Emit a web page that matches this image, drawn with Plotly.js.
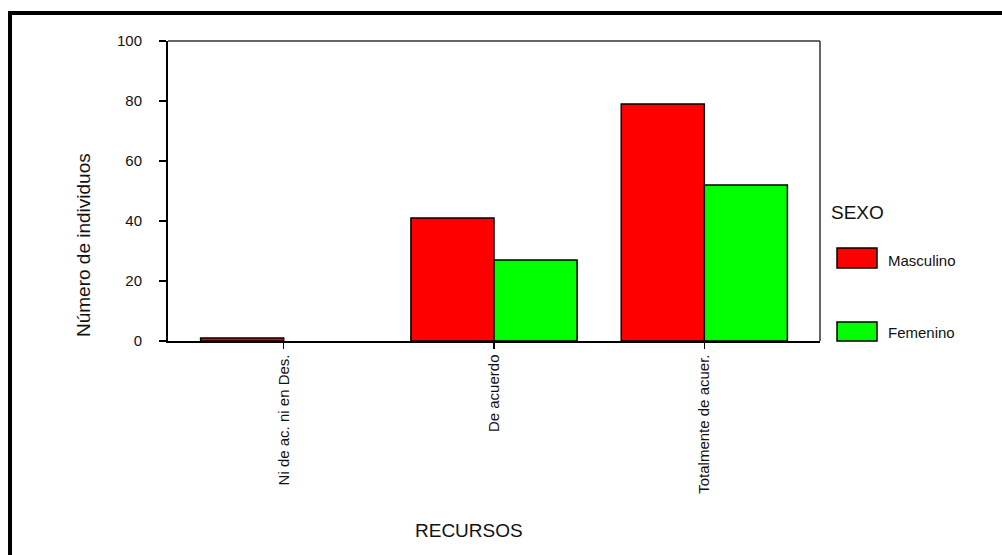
<!DOCTYPE html>
<html>
<head>
<meta charset="utf-8">
<script src="https://cdn.plot.ly/plotly-3.0.1.min.js"></script>
<style>html,body{margin:0;padding:0;background:#fff;}#chart{width:1002px;height:555px;}</style>
</head>
<body>
<div id="chart"></div>
<script>
var categories = ["Ni de ac. ni en Des.", "De acuerdo", "Totalmente de acuer."];
var seriesNames = ["Masculino", "Femenino"];
var masculino = [1, 41, 79];
var femenino = [0, 27, 52];
var yTicks = [0, 20, 40, 60, 80, 100];
var colors = ["#ff0000", "#00ff00"];

var FONT = "Arial, 'Liberation Sans', sans-serif";
var idx = categories.map(function(_, i){ return i; });

var traces = [masculino, femenino].map(function(vals, k){
  return {
    type: "bar", x: idx, y: vals, name: seriesNames[k],
    marker: {color: colors[k], line: {color: "#000", width: vals.map(function(v){ return v > 0 ? 1.5 : 0; })}},
    showlegend: false, hoverinfo: "none"
  };
});

var shapes = [
  {type:"line", xref:"paper", yref:"paper", x0:-0.2423, x1:-0.2423, y0:1.0967, y1:-0.8, line:{color:"#000", width:4}},
  {type:"line", xref:"paper", yref:"paper", x0:-0.2454, x1:1.3, y0:1.0933, y1:1.0933, line:{color:"#000", width:4}},
  {type:"line", xref:"paper", yref:"paper", x0:0, x1:1, y0:1, y1:1, line:{color:"#333", width:1.5}},
  {type:"line", xref:"paper", yref:"paper", x0:1, x1:1, y0:0, y1:1, line:{color:"#333", width:1.5}}
];
var legY = [[0.31, 0.2433, 0.27], [0.0633, 0.0, 0.03]];
var annotations = [
  {text:"RECURSOS", xref:"paper", yref:"paper", x:0.4617, y:-0.6333, xanchor:"center", yanchor:"middle", showarrow:false, font:{family:FONT, size:19, color:"#111"}},
  {text:"Número de individuos", xref:"paper", yref:"paper", x:-0.1288, y:0.32, xanchor:"center", yanchor:"middle", textangle:-90, showarrow:false, font:{family:FONT, size:19, color:"#111"}},
  {text:"SEXO", xref:"paper", yref:"paper", x:1.0143, y:0.43, xanchor:"left", yanchor:"middle", showarrow:false, font:{family:FONT, size:19, color:"#111"}}
];
seriesNames.forEach(function(n, k){
  shapes.push({type:"rect", xref:"paper", yref:"paper", x0:1.0261, x1:1.0874, y0:legY[k][0], y1:legY[k][1], fillcolor:colors[k], line:{color:"#000", width:1.5}});
  annotations.push({text:n, xref:"paper", yref:"paper", x:1.1013, y:legY[k][2], xanchor:"left", yanchor:"middle", showarrow:false, font:{family:FONT, size:15, color:"#111"}});
});

var layout = {
  width: 1002, height: 555,
  margin: {l:168, r:182, t:41, b:214, pad:0},
  paper_bgcolor: "#fff", plot_bgcolor: "#fff",
  font: {family: FONT, color: "#111"},
  barmode: "group", bargap: 0.21, bargroupgap: 0,
  showlegend: false,
  xaxis: {
    range: [-0.55, 2.55], tickmode: "array", tickvals: idx, ticktext: categories,
    tickangle: -90, ticks: "outside", ticklen: 6, tickwidth: 1.5, tickcolor: "#000",
    showline: true, linecolor: "#000", linewidth: 1.5, showgrid: false, zeroline: false,
    tickfont: {family: FONT, size: 15, color: "#111"}
  },
  yaxis: {
    range: [0, 100], tickmode: "array", tickvals: yTicks, ticktext: yTicks.map(String),
    ticks: "outside", ticklen: 7, tickwidth: 1.5, tickcolor: "#000",
    showline: true, linecolor: "#000", linewidth: 2, showgrid: false, zeroline: false,
    ticklabelstandoff: 14,
    tickfont: {family: FONT, size: 15, color: "#111"}
  },
  shapes: shapes,
  annotations: annotations
};

Plotly.newPlot("chart", traces, layout, {staticPlot: true, displayModeBar: false});
</script>
</body>
</html>
